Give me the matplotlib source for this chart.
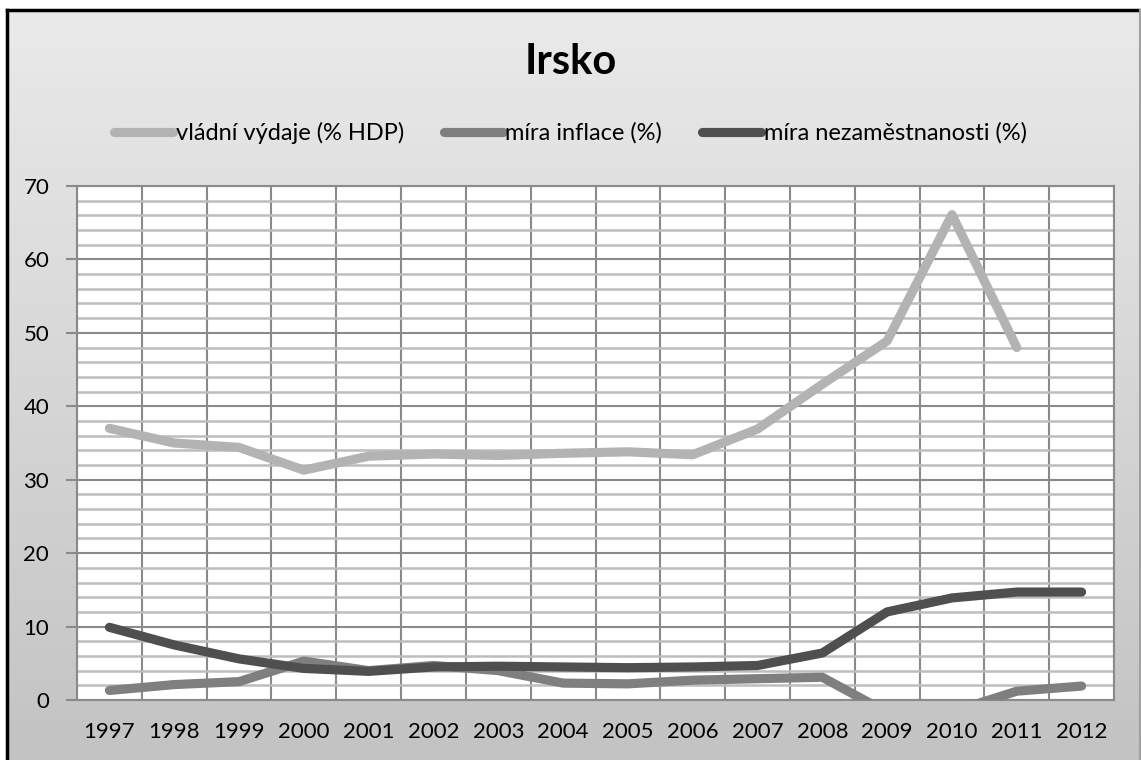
import numpy as np
import matplotlib.pyplot as plt
from matplotlib.lines import Line2D
from matplotlib.colors import LinearSegmentedColormap

# data
years = [str(y) for y in range(1997, 2013)]
vydaje = [37.0, 35.0, 34.4, 31.3, 33.2, 33.5, 33.3, 33.6, 33.8, 33.4, 36.9, 43.0, 48.9, 66.1, 48.0, np.nan]
inflace = [1.3, 2.1, 2.5, 5.3, 4.0, 4.7, 4.0, 2.3, 2.2, 2.7, 2.9, 3.1, -1.7, -1.6, 1.2, 1.9]
nezam = [9.9, 7.5, 5.6, 4.3, 3.9, 4.5, 4.6, 4.5, 4.4, 4.5, 4.7, 6.4, 12.0, 13.9, 14.7, 14.7]

labels = ["vládní výdaje (% HDP)", "míra inflace (%)", "míra nezaměstnanosti (%)"]
colors = ["#b3b3b3", "#7f7f7f", "#4f4f4f"]

plt.rcParams["font.family"] = ["Lato", "DejaVu Sans"]

W, H = 1141, 760
fig = plt.figure(figsize=(W / 100, H / 100), dpi=100, facecolor="white")

# pozadí s gradientem
bg = fig.add_axes([7 / W, 0, 1 - 8 / W, 1 - 10 / H], zorder=-10)
grad = np.linspace(0, 1, 256).reshape(-1, 1)
bg.imshow(grad, aspect="auto", cmap=LinearSegmentedColormap.from_list("g", ["#eaeaea", "#c3c3c3"]),
          extent=[0, 1, 0, 1], origin="upper")
bg.set_xlim(0, 1)
bg.set_ylim(0, 1)
bg.axis("off")

# rámeček
fig.add_artist(Line2D([7 / W, 7 / W], [0, 1 - 10 / H], color="black", lw=2.5))
fig.add_artist(Line2D([7 / W, 1140 / W], [1 - 10 / H, 1 - 10 / H], color="black", lw=2.5))
fig.add_artist(Line2D([1140 / W, 1140 / W], [0, 1 - 10 / H], color="#a0a0a0", lw=1.5))

ax = fig.add_axes([77 / W, 1 - 700 / H, (1114 - 77) / W, (700 - 186) / H])
ax.set_facecolor("white")

x = np.arange(len(years))
for vals, lab, c in zip([vydaje, inflace, nezam], labels, colors):
    ax.plot(x, vals, color=c, lw=6.6, label=lab, solid_capstyle="round", solid_joinstyle="round", zorder=3)

ax.set_xlim(-0.5, len(years) - 0.5)
ax.set_ylim(0, 70)
ax.set_yticks(range(0, 71, 10))
ax.set_yticks(range(0, 71, 2), minor=True)
ax.set_xticks(x)
ax.set_xticklabels(years)
ax.set_xticks(np.arange(-0.5, len(years), 1), minor=True)

# mřížka
ax.grid(which="minor", axis="y", color="#bdbdbd", lw=1.8, zorder=0)
ax.grid(which="major", axis="y", color="#8a8a8a", lw=1.5, zorder=1)
ax.grid(which="minor", axis="x", color="#8a8a8a", lw=1.5, zorder=1)
ax.set_axisbelow(True)

for s in ax.spines.values():
    s.set_color("#8a8a8a")
    s.set_linewidth(1.5)

ax.tick_params(axis="y", which="major", length=8, width=1.5, color="#8a8a8a", labelsize=16, pad=12)
ax.tick_params(axis="y", which="minor", length=0)
ax.tick_params(axis="x", which="both", length=0, labelsize=16, pad=16)

fig.text(0.5, 1 - 62 / H, "Irsko", ha="center", va="center", fontsize=30, fontweight="bold")

fig.legend(loc="center", bbox_to_anchor=(0.5, 1 - 133 / H), ncol=3, frameon=False,
           fontsize=17, handlelength=2.5, handletextpad=0.1, columnspacing=1.7)

fig.savefig("out.png", dpi=100, facecolor=fig.get_facecolor())
